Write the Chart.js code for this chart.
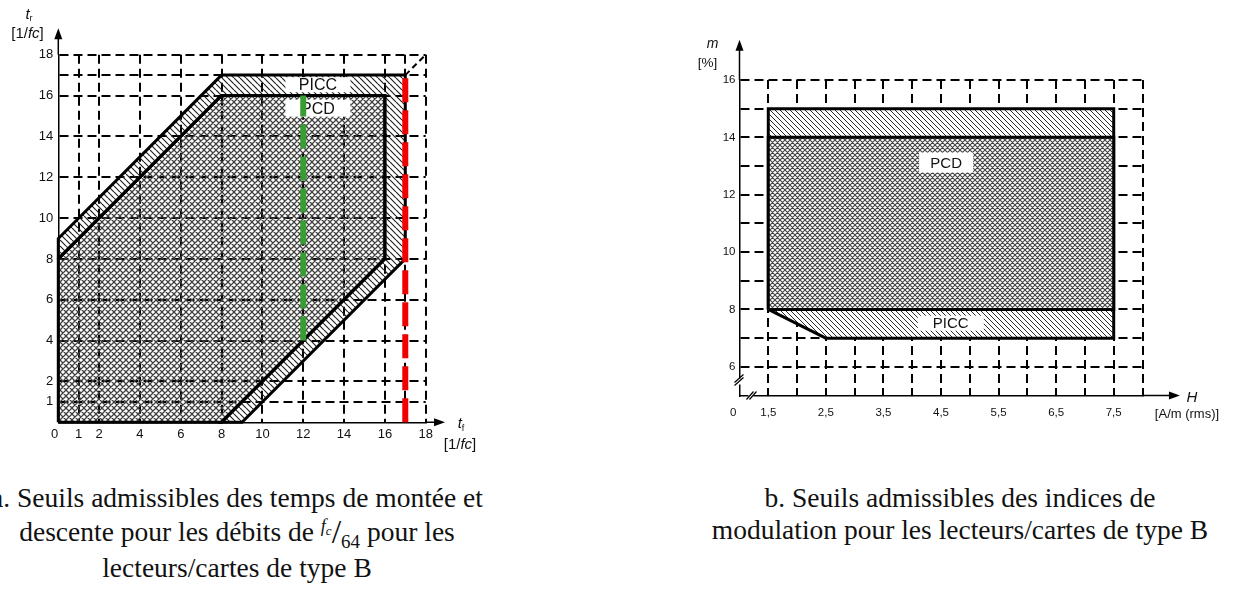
<!DOCTYPE html>
<html>
<head>
<meta charset="utf-8">
<script src="https://cdn.jsdelivr.net/npm/chart.js@4.4.1/dist/chart.umd.min.js"></script>
<style>
  html, body { margin: 0; padding: 0; background: #fff; }
  body { width: 1238px; height: 589px; position: relative; overflow: hidden; }
  .box { position: absolute; }
  .caption {
    position: absolute; top: 482px; width: 600px;
    font-family: "Liberation Serif", "Times New Roman", serif;
    font-size: 27.5px; line-height: 31.5px; text-align: center;
    color: #111; white-space: nowrap;
  }
  .num { font-style: italic; font-size: 18px; position: relative; top: -9px; }
  .num sub { font-size: 13px; vertical-align: baseline; position: relative; top: 3px; }
  .bar { font-size: 34px; position: relative; top: 2px; }
  .den { font-size: 19px; position: relative; top: 7px; }
</style>
</head>
<body>
<div class="box" style="left:0;top:0;width:480px;height:460px"><canvas id="chartA"></canvas></div>
<div class="box" style="left:620px;top:0;width:618px;height:460px"><canvas id="chartB"></canvas></div>
<div class="caption" style="left:-63px">a. Seuils admissibles des temps de montée et<br>descente pour les débits de <span class="num">f<sub>c</sub></span><span class="bar">/</span><span class="den">64</span> pour les<br>lecteurs/cartes de type B</div>
<div class="caption" style="left:660px">b. Seuils admissibles des indices de<br>modulation pour les lecteurs/cartes de type B</div>

<script>
// --- a. rise / fall time (units of 1/fc) ---
const tfTicks = [0, 1, 2, 4, 6, 8, 10, 12, 14, 16, 17, 18];
const trTicks = [0, 1, 2, 4, 6, 8, 10, 12, 14, 16, 17, 18];
const tfLabels = [0, 1, 2, 4, 6, 8, 10, 12, 14, 16, 18];
const trLabels = [1, 2, 4, 6, 8, 10, 12, 14, 16, 18];
const pcdZoneA = [[0, 0], [0, 8], [8, 16], [16, 16], [16, 8], [8, 0], [0, 0]];
const piccBandA = [[0, 8], [0, 9], [8, 17], [17, 17], [17, 8], [9, 0], [8, 0], [16, 8], [16, 16], [8, 16], [0, 8]];
const greenLimit = [[12, 4], [12, 16]];
const redLimit = [[17, 0], [17, 17]];
const diagonal = [[17, 17], [18, 18]];
const tagsA = [['PICC', 12.72, 16.53], ['PCD', 12.72, 15.38]];

// --- b. modulation index (%) vs H (A/m rms) ---
const hTicks = [1, 1.5, 2, 2.5, 3, 3.5, 4, 4.5, 5, 5.5, 6, 6.5, 7, 7.5, 8];
const hLabels = [1.5, 2.5, 3.5, 4.5, 5.5, 6.5, 7.5];
const mTicks = [5, 6, 7, 8, 9, 10, 11, 12, 13, 14, 15, 16];
const mLabels = [6, 8, 10, 12, 14, 16];
const piccZoneB = [[1.5, 8], [1.5, 15], [7.5, 15], [7.5, 7], [2.5, 7], [1.5, 8]];
const pcdZoneB = [[1.5, 8], [1.5, 14], [7.5, 14], [7.5, 8], [1.5, 8]];
const tagsB = [['PCD', 4.59, 13.12], ['PICC', 4.67, 7.52]];

const SANS = '"Liberation Sans", Arial, sans-serif';
Chart.defaults.font.family = SANS;
Chart.defaults.color = '#111';

function hatch(size, color, width, cross, bg) {
  const c = document.createElement('canvas');
  c.width = c.height = size;
  const g = c.getContext('2d');
  if (bg) { g.fillStyle = bg; g.fillRect(0, 0, size, size); }
  g.strokeStyle = color;
  g.lineWidth = width;
  g.beginPath();
  for (const k of [-size, 0, size]) {
    g.moveTo(k, 0); g.lineTo(k + size, size);
    if (cross) { g.moveTo(k + size, 0); g.lineTo(k, size); }
  }
  g.stroke();
  return g.createPattern(c, 'repeat');
}

function series(points, extra) {
  return Object.assign({
    data: points.map(([x, y]) => ({ x, y })),
    pointRadius: 0, pointHoverRadius: 0,
    borderColor: '#000', borderWidth: 3,
    borderJoinStyle: 'miter', borderCapStyle: 'butt',
    tension: 0, fill: false, clip: false
  }, extra);
}

function axis(ticks, labelFn, min, max, size, font, pad, horizontal) {
  return {
    type: 'linear', min, max,
    afterBuildTicks: s => { s.ticks = ticks.map(v => ({ value: v })); },
    afterFit: s => { if (horizontal) s.height = size; else s.width = size; },
    ticks: { autoSkip: false, maxRotation: 0, padding: pad, font: { size: font }, callback: labelFn },
    grid: {
      drawTicks: false, lineWidth: 2,
      color: c => (c.tick && c.tick.value === min) ? 'rgba(0,0,0,0)' : '#000'
    },
    border: { display: true, color: '#000', width: 1.5, dash: [9, 5] }
  };
}

function runs(ctx, parts, x, y) {
  let w = 0;
  parts.forEach(p => { ctx.font = p[1]; w += ctx.measureText(p[0]).width; });
  let cx = x - w / 2;
  parts.forEach(p => {
    ctx.font = p[1];
    ctx.fillText(p[0], cx, y + (p[2] || 0));
    cx += ctx.measureText(p[0]).width;
  });
}

function decor(xTip, yTip, titles) {
  return {
    id: 'decor',
    afterDraw(chart) {
      const { ctx, chartArea, scales: { x, y } } = chart;
      const x0 = chartArea.left, y0 = chartArea.bottom;
      const xt = x.getPixelForValue(xTip), yt = y.getPixelForValue(yTip);
      ctx.save();
      ctx.strokeStyle = '#000'; ctx.fillStyle = '#000'; ctx.lineWidth = 1.5;
      ctx.beginPath();
      ctx.moveTo(x0, chartArea.top); ctx.lineTo(x0, yt + 6);
      ctx.moveTo(chartArea.right, y0); ctx.lineTo(xt - 6, y0);
      ctx.stroke();
      ctx.beginPath(); ctx.moveTo(x0, yt); ctx.lineTo(x0 - 4, yt + 11); ctx.lineTo(x0 + 4, yt + 11); ctx.closePath(); ctx.fill();
      ctx.beginPath(); ctx.moveTo(xt, y0); ctx.lineTo(xt - 11, y0 - 4); ctx.lineTo(xt - 11, y0 + 4); ctx.closePath(); ctx.fill();
      ctx.fillStyle = '#111';
      ctx.textBaseline = 'middle'; ctx.textAlign = 'left';
      titles(ctx, x0, y0);
      ctx.restore();
    }
  };
}

function tags(items, boxes, font, after) {
  return {
    id: 'tags',
    afterDatasetDraw(chart, args) {
      if (args.index !== after) return;
      const { ctx, scales: { x, y } } = chart;
      ctx.save();
      items.forEach(([text, vx, vy], i) => {
        const px = x.getPixelForValue(vx), py = y.getPixelForValue(vy);
        const [w, h] = boxes[i];
        ctx.fillStyle = '#fff';
        ctx.fillRect(px - w / 2, py - h / 2, w, h);
        ctx.fillStyle = '#111';
        ctx.font = font;
        ctx.textAlign = 'center'; ctx.textBaseline = 'middle';
        ctx.fillText(text, px, py + 1);
      });
      ctx.restore();
    }
  };
}

const common = {
  responsive: true, maintainAspectRatio: false, animation: false, events: [],
  plugins: { legend: { display: false }, tooltip: { enabled: false } }
};

// chart a
new Chart(document.getElementById('chartA'), {
  type: 'line',
  data: {
    datasets: [
      series(redLimit, { borderColor: '#f20000', borderWidth: 6, borderDash: [24, 8] }),
      series(greenLimit, { borderColor: '#3a9c33', borderWidth: 6, borderDash: [24, 8] }),
      series(diagonal, { borderWidth: 2, borderDash: [6, 4] }),
      series(piccBandA, { fill: 'shape', backgroundColor: hatch(6, '#222', 1.2, false) }),
      series(pcdZoneA, { fill: 'shape', backgroundColor: hatch(6, '#404040', 1.25, true) })
    ]
  },
  options: Object.assign({}, common, {
    layout: { padding: { left: 18.3, top: 54.7, right: 54.3, bottom: 7.7 } },
    scales: {
      x: axis(tfTicks, v => tfLabels.includes(v) ? (v === 0 ? '0  ' : String(v)) : '', 0, 18, 30, 13, 4, true),
      y: axis(trTicks, v => trLabels.includes(v) ? String(v) : '', 0, 18, 40, 13, 5, false)
    }
  }),
  plugins: [
    tags(tagsA, [[65, 15], [65, 17]], '16px ' + SANS, 3),
    decor(18.95, 19.3, (ctx, x0, y0) => {
      runs(ctx, [['t', 'italic 15px ' + SANS], ['r', '9px ' + SANS, 4]], 29, 15);
      runs(ctx, [['[1/', '15px ' + SANS], ['fc', 'italic 15px ' + SANS], [']', '15px ' + SANS]], 27.5, 34);
      runs(ctx, [['t', 'italic 15px ' + SANS], ['f', '9px ' + SANS, 4]], 461, y0 + 2);
      runs(ctx, [['[1/', '15px ' + SANS], ['fc', 'italic 15px ' + SANS], [']', '15px ' + SANS]], 460, y0 + 23);
    })
  ]
});

// chart b
new Chart(document.getElementById('chartB'), {
  type: 'line',
  data: {
    datasets: [
      series(pcdZoneB, { fill: 'shape', backgroundColor: hatch(5, '#444', 1.1, true, '#fff') }),
      series(piccZoneB, { fill: 'shape', backgroundColor: hatch(5, '#2a2a2a', 1, false, '#fff') })
    ]
  },
  options: Object.assign({}, common, {
    layout: { padding: { left: 79.5, top: 80, right: 95.5, bottom: 34.5 } },
    scales: {
      x: axis(hTicks, v => v === 1 ? '0    ' : (hLabels.includes(v) ? v.toFixed(1).replace('.', ',') : ''), 1, 8, 30, 11.5, 10, true),
      y: axis(mTicks, v => mLabels.includes(v) ? String(v) : '', 5, 16, 40, 11.5, 4, false)
    }
  }),
  plugins: [
    tags(tagsB, [[54, 20], [66, 15]], '15px ' + SANS, 0),
    decor(8.65, 17.4, (ctx, x0, y0) => {
      // axis breaks
      ctx.fillStyle = '#fff';
      ctx.fillRect(x0 - 2, y0 - 17, 4, 6);
      ctx.fillRect(x0 + 9, y0 - 2, 5, 4);
      ctx.strokeStyle = '#000'; ctx.lineWidth = 1.2;
      ctx.beginPath();
      ctx.moveTo(x0 - 5, y0 - 10); ctx.lineTo(x0 + 4, y0 - 18);
      ctx.moveTo(x0 - 5, y0 - 13); ctx.lineTo(x0 + 4, y0 - 21);
      ctx.moveTo(x0 + 7, y0 + 4); ctx.lineTo(x0 + 14, y0 - 4);
      ctx.moveTo(x0 + 10, y0 + 4); ctx.lineTo(x0 + 17, y0 - 4);
      ctx.stroke();
      ctx.fillStyle = '#111';
      runs(ctx, [['m', 'italic 14px ' + SANS]], x0 - 27, 44);
      runs(ctx, [['[%]', '13.5px ' + SANS]], x0 - 32, 63);
      runs(ctx, [['H', 'italic 15px ' + SANS]], 1192 - 620, y0 + 2);
      runs(ctx, [['[A/m (rms)]', '13px ' + SANS]], 1187 - 620, y0 + 19);
    })
  ]
});
</script>
</body>
</html>
